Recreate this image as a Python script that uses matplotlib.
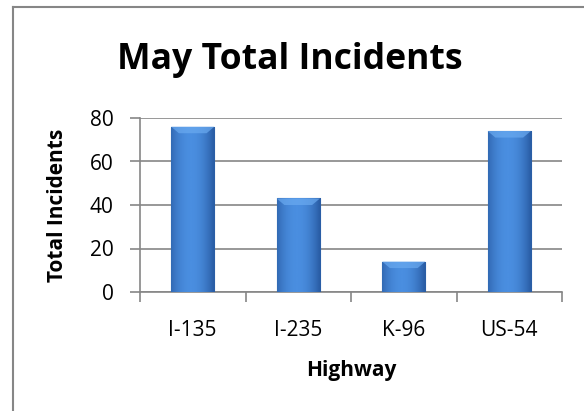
import numpy as np
import matplotlib.pyplot as plt
from matplotlib.lines import Line2D
from matplotlib.colors import LinearSegmentedColormap

highways = ["I-135", "I-235", "K-96", "US-54"]
incidents = [76, 43, 14, 74]

plt.rcParams['font.family'] = ['Open Sans', 'DejaVu Sans']

fig = plt.figure(figsize=(5.84, 4.11), dpi=100)
ax = fig.add_axes([140/584, 1 - 292/411, 422/584, 174/411])

x = np.arange(len(highways))
bars = ax.bar(x, incidents, width=0.41, color='#3d7ccc', edgecolor='#2f62a6',
              linewidth=0.8, zorder=3)

# horizontal shading on each bar
grad = np.linspace(0, 1, 64)
grad = 1 - 0.55 * (grad - 0.45) ** 2 * 4
grad = np.tile(grad, (2, 1))
cmap = LinearSegmentedColormap.from_list('b', ['#2a5ea6', '#4a8ee0'])
for b in bars:
    bx, by = b.get_x(), b.get_y()
    w, h = b.get_width(), b.get_height()
    im = ax.imshow(grad, cmap=cmap, extent=[bx, bx + w, by, by + h],
                   aspect='auto', zorder=3.5, vmin=0.4, vmax=1)
    im.set_clip_path(b)
    # lighter top bevel
    ax.fill([bx, bx + w, bx + w - w * 0.18, bx + w * 0.18],
            [by + h, by + h, by + h - 3, by + h - 3],
            color='#6aaaf0', alpha=0.7, zorder=4, lw=0)
ax.set_xlim(-0.5, len(highways) - 0.5)
ax.set_ylim(0, 80)
ax.set_yticks([0, 20, 40, 60, 80])
ax.yaxis.grid(True, color='#868686', linewidth=1.2, zorder=0)
ax.set_axisbelow(True)

ax.set_xticks(x)
ax.set_xticklabels(highways)
ax.set_xticks(np.arange(len(highways) + 1) - 0.5, minor=True)
ax.tick_params(axis='x', which='major', length=0, labelsize=15, pad=20)
ax.tick_params(axis='x', which='minor', length=7, color='#868686', width=1.2)
ax.tick_params(axis='y', length=7, color='#868686', width=1.2, labelsize=15, pad=12)

for s in ['top', 'right']:
    ax.spines[s].set_visible(False)
for s in ['left', 'bottom']:
    ax.spines[s].set_color('#868686')
    ax.spines[s].set_linewidth(1.2)

ax.set_xlabel("Highway", fontsize=15, fontweight='bold', labelpad=14)
ax.set_ylabel("Total Incidents", fontsize=15, fontweight='bold', labelpad=16)

fig.text(290/584, 1 - 60/411, "May Total Incidents", fontsize=25.6,
         fontweight='bold', ha='center', va='center')

# chart frame
fig.add_artist(Line2D([13/584, 13/584], [0, 1 - 7/411], color='#868686', lw=1.5))
fig.add_artist(Line2D([13/584, 1], [1 - 7/411, 1 - 7/411], color='#868686', lw=1.5))

fig.savefig("out.png", dpi=100)
